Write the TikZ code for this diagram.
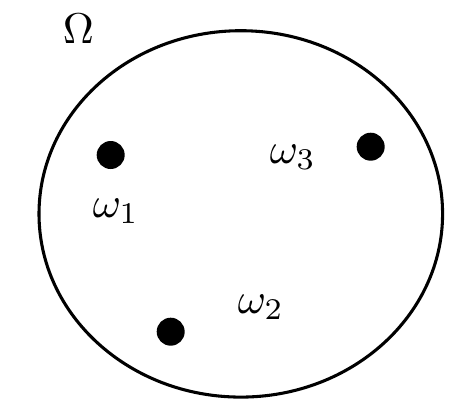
\documentclass[tikz,border=0pt]{standalone}
\begin{document}
\begin{tikzpicture}[x=0.244pt,y=-0.244pt,
  pt/.style={circle,fill=black,inner sep=0pt,minimum size=28*0.244pt},
  lbl/.style={inner sep=0pt,anchor=base west,scale=1.05}]
\useasboundingbox (0,0) rectangle (461,413);
\draw[line width=0.75pt] (240.8,213.9) ellipse [x radius=201.8, y radius=183.2];
\node[pt] (p1) at (110.7,155) {};
\node[pt] (p3) at (370.7,146.7) {};
\node[pt] (p2) at (170.7,331.7) {};
\node[lbl] (om) at (62,43) {$\Omega$};
\node[lbl] (w1) at (92,217) {$\omega_1$};
\node[lbl] (w3) at (269,163) {$\omega_3$};
\node[lbl] (w2) at (237,313) {$\omega_2$};
\end{tikzpicture}
\end{document}
